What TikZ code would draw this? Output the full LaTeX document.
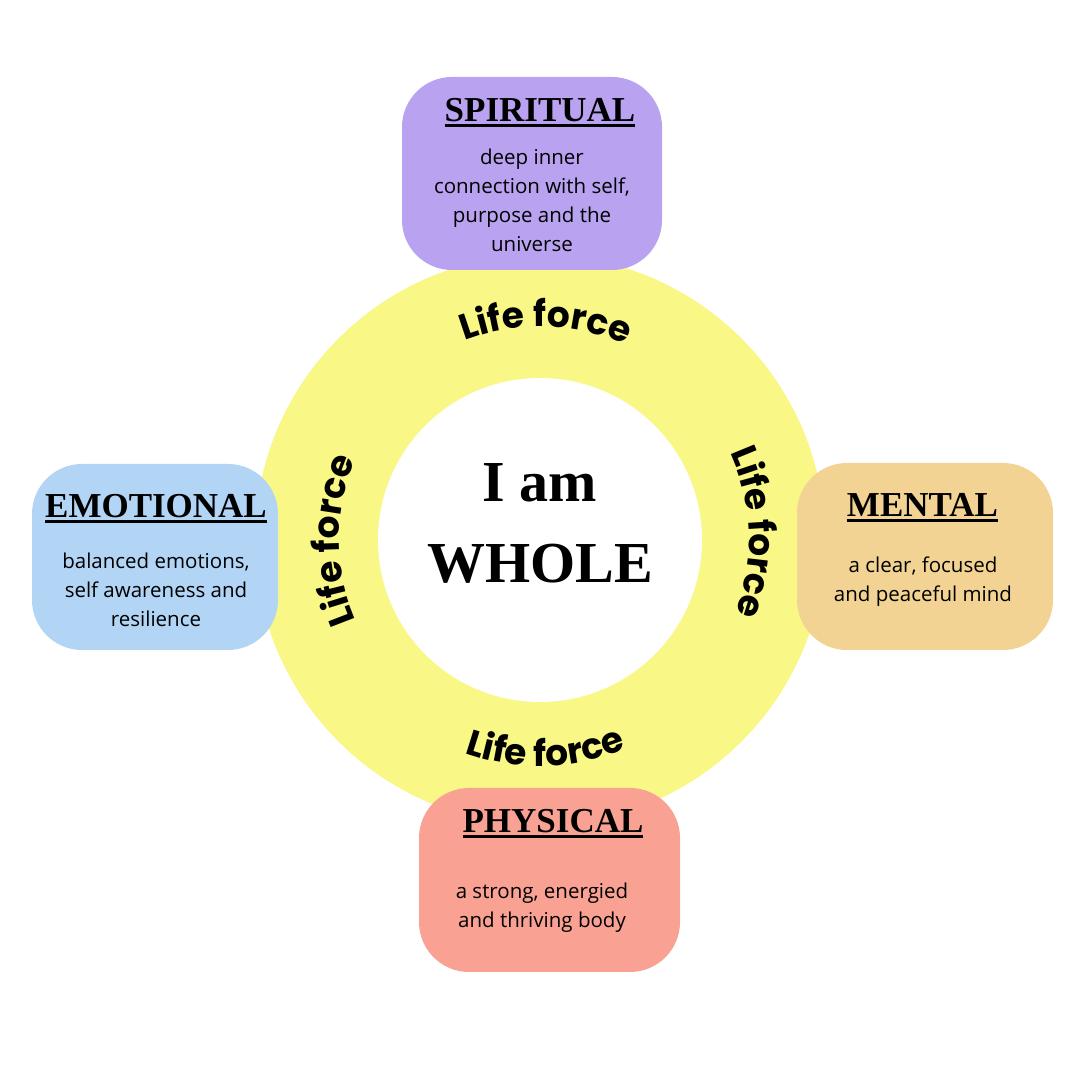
\documentclass[tikz,border=0pt]{standalone}
\usepackage{fontspec}
\setmainfont{Liberation Serif}
\newfontfamily\bodyfont{Open Sans}
\newfontfamily\lifefont{Poppins}
\usetikzlibrary{decorations.text}
\definecolor{ringYellow}{HTML}{F9F785}
\definecolor{spiritPurple}{HTML}{B9A3F1}
\definecolor{emoBlue}{HTML}{B2D5F5}
\definecolor{mentalSand}{HTML}{F3D394}
\definecolor{physSalmon}{HTML}{F9A294}
\newcommand{\ulhead}[1]{\setbox0=\hbox{#1}\rlap{\rule[-5pt]{\wd0}{2.5pt}}\box0}

\tikzset{
  areabox/.style={rounded corners=50pt, inner sep=0pt},
  headtext/.style={font=\bfseries\fontsize{35}{35}\selectfont, anchor=base},
  bodytext/.style={font=\bodyfont\fontsize{20.5}{29}\selectfont, align=center, anchor=base},
  wholetext/.style={font=\bfseries\fontsize{58}{58}\selectfont, anchor=base},
  lifetext/.style={decorate, decoration={text along path, text align=center,
    text={|\lifefont\bfseries\fontsize{36}{36}\selectfont|Life force}}}
}

\begin{document}
\begin{tikzpicture}[x=1pt, y=1pt]
  \fill[white] (0,0) rectangle (1080,1080);
  \coordinate (c) at (540,540);
  \fill[ringYellow] (c) circle (285);
  \fill[white] (c) circle (162);

  \node[wholetext] (iam) at (540,578) {I am};
  \node[wholetext] (whole) at (540,497) {WHOLE};

  \path[lifetext] ([shift={(150:213)}]c) arc[start angle=150, end angle=27, radius=213];
  \path[lifetext] ([shift={(62:209)}]c) arc[start angle=62, end angle=-58, radius=209];
  \path[lifetext] ([shift={(240:201)}]c) arc[start angle=240, end angle=120, radius=201];
  \path[lifetext] ([shift={(-148.5:226)}]c) arc[start angle=-148.5, end angle=-28.5, radius=226];

  \node[areabox, fill=spiritPurple, minimum width=260, minimum height=193] (spiritual) at (532,906.5) {};
  \node[headtext] (spiritualhead) at (540,958) {\ulhead{SPIRITUAL}};
  \node[bodytext] (spiritualbody) at (532,828) {deep inner\\connection with self,\\purpose and the\\universe};

  \node[areabox, fill=emoBlue, minimum width=246, minimum height=186] (emotional) at (155,523) {};
  \node[headtext] (emotionalhead) at (156,562) {\ulhead{EMOTIONAL}};
  \node[bodytext] (emotionalbody) at (156,453) {balanced emotions,\\self awareness and\\resilience};

  \node[areabox, fill=mentalSand, minimum width=256, minimum height=187] (mental) at (925,523.5) {};
  \node[headtext] (mentalhead) at (922.5,563) {\ulhead{MENTAL}};
  \node[bodytext] (mentalbody) at (923,478) {a clear, focused\\and peaceful mind};

  \node[areabox, fill=physSalmon, minimum width=261, minimum height=184] (physical) at (549.5,200) {};
  \node[headtext] (physicalhead) at (553,247) {\ulhead{PHYSICAL}};
  \node[bodytext] (physicalbody) at (542,152) {a strong, energied\\and thriving body};
\end{tikzpicture}
\end{document}
